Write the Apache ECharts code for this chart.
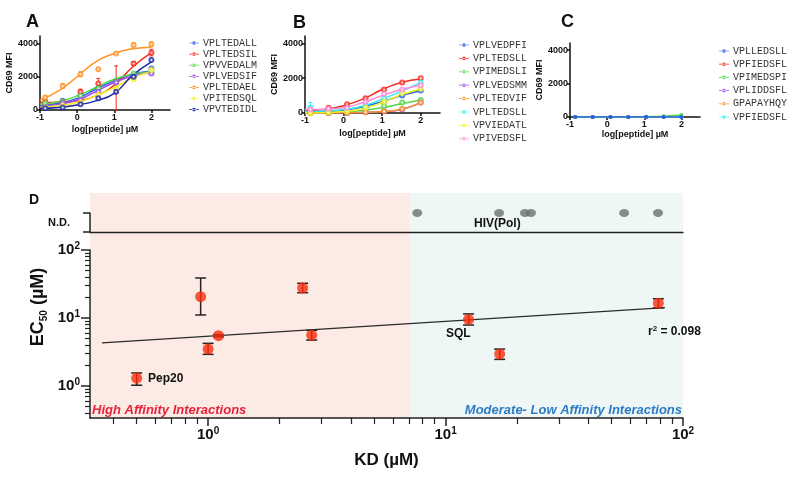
<!DOCTYPE html>
<html><head><meta charset="utf-8">
<script src="https://cdn.jsdelivr.net/npm/echarts@6/dist/echarts.min.js"></script>
<style>html,body{margin:0;padding:0;background:#fff}#c{width:795px;height:480px}</style>
</head><body><div id="c"></div>
<script>
// ---------- DATA ----------
const doseX = [-0.86, -0.39, 0.09, 0.57, 1.05, 1.52, 2.0];   // log[peptide] of measured points
const curveX = [-1, -0.5, 0, 0.5, 1, 1.5, 2];                 // positions where fitted curves were read
const doseTicks = [-1, 0, 1, 2];
const mfiTicks = [0, 2000, 4000];

// Panel A
const namesA = ['VPLTEDALL','VPLTEDSIL','VPVVEDALM','VPLVEDSIF','VPLTEDAEL','VPITEDSQL','VPVTEDIDL'];
const colorsA = ['#2a5ee8','#f52a1e','#52d84a','#a24cf0','#ff9426','#f4f01c','#1a26a6'];
const curvesA = [
  [250, 400, 700, 1250, 1750, 2150, 2350],
  [450, 460, 560, 850, 1500, 2600, 3450],
  [350, 500, 850, 1350, 1850, 2150, 2280],
  [200, 330, 600, 1100, 1650, 2050, 2250],
  [600, 1150, 2000, 2900, 3400, 3680, 3780],
  [150, 250, 450, 850, 1350, 1950, 2300],
  [100, 150, 300, 550, 1000, 2100, 2900]
];
const pointsA = [
  [250, 550, 900, 1300, 1700, 2100, 2500],
  [500, 500, 1100, 1600, 1700, 2800, 3450],
  [400, 500, 850, 1300, 1700, 2200, 2300],
  [200, 400, 600, 1100, 1650, 2000, 2200],
  [750, 1450, 2150, 2450, 3400, 3900, 3950],
  [150, 250, 450, 900, 1300, 1850, 2400],
  [100, 150, 350, 700, 1100, 2000, 3000]
];
const errA_VPLTEDSIL = [[400,600],[400,600],[900,1250],[1300,1900],[0,2650],[2700,2900],[3250,3650]];
const errA_VPLTEDAEL = [[650,850],[1300,1600],[2000,2300],[2400,2500],[3350,3450],[3800,4050],[3800,4100]];

// Panel B
const namesB = ['VPLVEDPFI','VPLTEDSLL','VPIMEDSLI','VPLVEDSMM','VPLTEDVIF','VPLTEDSLL ','VPVIEDATL','VPIVEDSFL'];
const colorsB = ['#2a5ee8','#f52a1e','#52d84a','#a24cf0','#ff9426','#2ef0f0','#f4f01c','#ff8ad8'];
const curvesB = [
  [50, 80, 150, 350, 650, 1000, 1280],
  [130, 200, 420, 800, 1350, 1750, 1950],
  [0, 20, 60, 150, 300, 530, 750],
  [0, 0, 10, 30, 80, 200, 600],
  [0, 0, 10, 30, 80, 220, 600],
  [80, 110, 200, 400, 800, 1250, 1750],
  [0, 20, 80, 250, 600, 1050, 1400],
  [200, 220, 300, 600, 1000, 1350, 1600]
];
const pointsB = [
  [100, 100, 200, 350, 650, 1000, 1300],
  [150, 300, 500, 850, 1350, 1750, 2000],
  [0, 0, 100, 200, 400, 600, 750],
  [0, 0, 0, 50, 100, 200, 600],
  [0, 0, 0, 50, 100, 250, 600],
  [300, 100, 200, 450, 850, 1200, 1750],
  [0, 50, 100, 300, 650, 1150, 1400],
  [200, 250, 300, 650, 1100, 1350, 1600]
];
const errB_cyan = [[100,600],[80,120],[150,250],[350,550],[700,1000],[1100,1300],[1650,1900]];

// Panel C
const namesC = ['VPLLEDSLL','VPFIEDSFL','VPIMEDSPI','VPLIDDSFL','GPAPAYHQY','VPFIEDSFL '];
const colorsC = ['#2a5ee8','#f52a1e','#52d84a','#a24cf0','#ff9426','#2ef0f0'];
const pointsC = [
  [0, 0, 0, 0, 0, 0, 0],
  [0, 0, 0, 0, 0, 0, 0],
  [0, 0, 0, 0, 10, 50, 120],
  [0, 0, 0, 0, 0, 0, 0],
  [0, 0, 0, 0, 0, 0, 0],
  [0, 0, 0, 0, 0, 0, 0]
];

// Panel D (µM)
const kd     = [0.50, 0.93, 1.00, 1.105, 2.50, 2.73, 12.5, 16.9, 78.7];
const ec50   = [1.31, 20.6, 3.50, 5.50, 27.6, 5.60, 9.56, 2.96, 16.5];
const ecLow  = [1.03, 11.1, 2.93, 5.30, 23.6, 4.75, 7.90, 2.47, 14.1];
const ecHigh = [1.56, 38.8, 4.25, 5.70, 32.4, 6.60, 11.5, 3.50, 19.2];
const ndKD   = [7.6, 16.8, 21.6, 22.9, 56.5, 78.5];        // HIV(Pol) peptides, EC50 not determined
const fitKD  = [0.357, 84];
const fitEC  = [4.33, 14.2];
const kdRange = [0.318, 100];
const ecRange = [0.34, 100];
const affinityBounds = [0.318, 7.08, 100];                  // high | moderate-low affinity split
const kdMajorTicks = [1, 10, 100];
const kdMinorTicks = [0.4,0.5,0.6,0.7,0.8,0.9,2,3,4,5,6,7,8,9,20,30,40,50,60,70,80,90];
const ecMajorTicks = [1, 10, 100];
const ecMinorTicks = [0.4,0.5,0.6,0.7,0.8,0.9,2,3,4,5,6,7,8,9,20,30,40,50,60,70,80,90];

// ---------- CHART ----------
const FONT = 'Liberation Sans, Arial, sans-serif';
const MONO = 'Liberation Mono, Courier New, monospace';
const L = Math.log10;
const ICON = 'path://M0,4.5h14v1h-14z M7,2.5a2.5,2.5 0 1,0 0.001,0z';
const chart = echarts.init(document.getElementById('c'));

const grid = [
  {left:40, top:36, width:130, height:74},
  {left:305, top:36, width:135, height:77},
  {left:570, top:43, width:130, height:74},
  {left:90, top:193, width:593, height:225},
  {left:90, top:213, width:593, height:19},
  {left:90, top:250, width:593, height:168}
];

const axTxt = {fontSize:9, fontWeight:'bold', color:'#111', fontFamily:FONT};
function doseX_(gi, gap) {
  return {type:'value', gridIndex:gi, min:-1, max:2.5,
    axisLine:{show:true, onZero:false, lineStyle:{color:'#111', width:1.5}},
    axisTick:{show:true, customValues:doseTicks, length:3, lineStyle:{color:'#111', width:1.5}},
    axisLabel:Object.assign({customValues:doseTicks, margin:3, formatter:v => String(v)}, axTxt),
    splitLine:{show:false},
    name:'log[peptide] \u00b5M', nameLocation:'middle', nameGap:gap, nameTextStyle:axTxt};
}
function mfiY_(gi, max, gap) {
  return {type:'value', gridIndex:gi, min:0, max:max,
    axisLine:{show:true, onZero:false, lineStyle:{color:'#111', width:1.5}},
    axisTick:{show:true, customValues:mfiTicks, length:3, lineStyle:{color:'#111', width:1.5}},
    axisLabel:Object.assign({customValues:mfiTicks, margin:2, formatter:v => String(v)}, axTxt),
    splitLine:{show:false},
    name:'CD69 MFI', nameLocation:'middle', nameGap:gap, nameTextStyle:axTxt};
}
const supRich = {
  b:{fontSize:15, fontWeight:'bold', fontFamily:FONT, color:'#111', lineHeight:18},
  p:{fontSize:10, fontWeight:'bold', fontFamily:FONT, color:'#111', verticalAlign:'top', lineHeight:10}
};
const supFmt = v => '{b|10}{p|' + Math.round(v) + '}';

const xAxis = [
  doseX_(0, 15), doseX_(1, 16), doseX_(2, 12),
  {type:'value', gridIndex:3, min:L(kdRange[0]), max:L(kdRange[1]), show:false},
  {type:'value', gridIndex:4, min:L(kdRange[0]), max:L(kdRange[1]), z:5, position:'bottom',
    axisLine:{show:true, onZero:false, lineStyle:{color:'#222', width:1.3}},
    axisTick:{show:false}, axisLabel:{show:false}, splitLine:{show:false}},
  {type:'value', gridIndex:5, min:L(kdRange[0]), max:L(kdRange[1]), z:5, position:'bottom',
    axisLine:{show:true, onZero:false, lineStyle:{color:'#222', width:1.5}},
    axisTick:{show:true, customValues:kdMajorTicks.map(L), length:8, lineStyle:{color:'#222', width:1.5}},
    axisLabel:{customValues:kdMajorTicks.map(L), formatter:supFmt, rich:supRich, margin:8},
    splitLine:{show:false},
    name:'KD (\u00b5M)', nameLocation:'middle', nameGap:34,
    nameTextStyle:{fontSize:17, fontWeight:'bold', color:'#111', fontFamily:FONT}},
  {type:'value', gridIndex:5, min:L(kdRange[0]), max:L(kdRange[1]), z:5, position:'bottom', offset:0,
    axisLine:{show:false, onZero:false}, axisLabel:{show:false}, splitLine:{show:false},
    axisTick:{show:true, customValues:kdMinorTicks.map(L), length:6, lineStyle:{color:'#222', width:1.2}}}
];
const yAxis = [
  mfiY_(0, 4450, 20), mfiY_(1, 4430, 15), mfiY_(2, 4420, 19),
  {type:'value', gridIndex:3, min:0, max:1, show:false},
  {type:'category', gridIndex:4, data:['N.D.'], boundaryGap:true, z:5, position:'left',
    axisLine:{show:true, onZero:false, lineStyle:{color:'#222', width:1.5}},
    axisTick:{show:true, length:7, lineStyle:{color:'#222', width:1.5}},
    axisLabel:{fontSize:11, fontWeight:'bold', color:'#111', fontFamily:FONT, margin:20}},
  {type:'value', gridIndex:4, min:0, max:1, show:false, position:'left', axisLine:{onZero:false}},
  {type:'value', gridIndex:5, min:L(ecRange[0]), max:L(ecRange[1]), z:5, position:'left',
    axisLine:{show:true, onZero:false, lineStyle:{color:'#222', width:1.5}},
    axisTick:{show:true, customValues:ecMajorTicks.map(L), length:9, lineStyle:{color:'#222', width:1.5}},
    axisLabel:{customValues:ecMajorTicks.map(L), formatter:supFmt, rich:supRich, margin:10},
    splitLine:{show:false}},
  {type:'value', gridIndex:5, min:L(ecRange[0]), max:L(ecRange[1]), z:5, position:'left', offset:0,
    axisLine:{show:false, onZero:false}, axisLabel:{show:false}, splitLine:{show:false},
    axisTick:{show:true, customValues:ecMinorTicks.map(L), length:5, lineStyle:{color:'#222', width:1.2}}}
];

function errBars(xi, yi, data, color, cap, lw, z) {
  return {type:'custom', xAxisIndex:xi, yAxisIndex:yi, data:data, silent:true, z:z||2,
    encode:{x:0, y:[1,2]},
    renderItem:function(params, api){
      const x = api.value(0), lo = api.value(1), hi = api.value(2);
      const a = api.coord([x, lo]), b = api.coord([x, hi]), h = cap/2;
      const st = {stroke:color, lineWidth:lw};
      return {type:'group', children:[
        {type:'line', shape:{x1:a[0], y1:a[1], x2:b[0], y2:b[1]}, style:st},
        {type:'line', shape:{x1:a[0]-h, y1:a[1], x2:a[0]+h, y2:a[1]}, style:st},
        {type:'line', shape:{x1:b[0]-h, y1:b[1], x2:b[0]+h, y2:b[1]}, style:st}
      ]};
    }};
}

const series = [];
function dosePanel(gi, names, colors, curves, points) {
  names.forEach((n, i) => {
    series.push({type:'line', name:n, xAxisIndex:gi, yAxisIndex:gi, smooth:0.5,
      data:curveX.map((x, k) => [x, curves[i][k]]), symbol:'circle', showSymbol:false,
      lineStyle:{color:colors[i], width:1.5}, itemStyle:{color:colors[i]}, z:3});
    series.push({type:'scatter', name:n, xAxisIndex:gi, yAxisIndex:gi,
      data:doseX.map((x, k) => [x, points[i][k]]), symbol:'emptyCircle', symbolSize:4,
      itemStyle:{color:colors[i], borderColor:colors[i], borderWidth:1}, z:3});
  });
}
dosePanel(0, namesA, colorsA, curvesA, pointsA);
series.push(errBars(0, 0, doseX.map((x,k)=>[x, errA_VPLTEDSIL[k][0], errA_VPLTEDSIL[k][1]]), colorsA[1], 4, 1, 2));
series.push(errBars(0, 0, doseX.map((x,k)=>[x, errA_VPLTEDAEL[k][0], errA_VPLTEDAEL[k][1]]), colorsA[4], 4, 1, 2));
dosePanel(1, namesB, colorsB, curvesB, pointsB);
series.push(errBars(1, 1, doseX.map((x,k)=>[x, errB_cyan[k][0], errB_cyan[k][1]]), colorsB[5], 4, 1, 2));
namesC.forEach((n, i) => {
  series.push({type:'line', name:n, xAxisIndex:2, yAxisIndex:2,
    data:doseX.map((x, k) => [x, pointsC[i][k]]), symbol:'circle', symbolSize:4, showSymbol:true,
    lineStyle:{color:colorsC[i], width:1.5}, itemStyle:{color:colorsC[i]}, z: i === 0 ? 6 : (i === 2 ? 5 : 3)});
});

// Panel D
const bgColors = ['#fcebe4', '#eef7f5'];
series.push({type:'custom', xAxisIndex:3, yAxisIndex:3, silent:true, z:0,
  data:[[L(affinityBounds[0]), L(affinityBounds[1]), 0], [L(affinityBounds[1]), L(affinityBounds[2]), 1]],
  encode:{x:[0,1]},
  renderItem:function(params, api){
    const a = api.coord([api.value(0), 1]), b = api.coord([api.value(1), 0]);
    return {type:'rect', shape:{x:a[0], y:a[1], width:b[0]-a[0], height:b[1]-a[1]},
      style:{fill:bgColors[api.value(2)]}};
  }});
series.push({type:'scatter', xAxisIndex:4, yAxisIndex:5, data:ndKD.map(v => [L(v), 1]),
  symbol:'circle', symbolSize:[10, 8], itemStyle:{color:'#6a6f70'}, z:4});
series.push({type:'line', xAxisIndex:5, yAxisIndex:6, data:fitKD.map((v, i) => [L(v), L(fitEC[i])]),
  symbol:'none', lineStyle:{color:'#2b2b2b', width:1.3}, z:3});
series.push(errBars(5, 6, kd.map((v, i) => [L(v), L(ecLow[i]), L(ecHigh[i])]), '#222', 11, 1.5, 4));
series.push({type:'scatter', xAxisIndex:5, yAxisIndex:6, data:kd.map((v, i) => [L(v), L(ec50[i])]),
  symbol:'circle', symbolSize:11, itemStyle:{color:'#fb2d0c'}, z:5});

function legend(left, top, gap, names) {
  return {left:left, top:top, orient:'vertical', itemWidth:10, itemHeight:6, itemGap:gap, padding:0,
    icon:ICON, selectedMode:false, data:names,
    textStyle:{fontFamily:MONO, fontSize:10, color:'#333', lineHeight:8, padding:[0,0,0,-1]}};
}

const T = (text, x, y, size) => ({type:'text', x:x, y:y, z:100,
  style:{text:text, fontSize:size, fontWeight:'bold', fontFamily:FONT, fill:'#111', align:'left', verticalAlign:'middle'}});

const graphic = [
  T('A', 26, 22, 18), T('B', 293, 23, 18), T('C', 561, 22, 18), T('D', 29, 200, 14),
  T('Pep20', 148, 379, 12), T('SQL', 446, 334, 12), T('HIV(Pol)', 474, 224, 12),
  {type:'text', x:648, y:332, z:100, style:{text:'{a|r}{p|2}{a| = 0.098}', align:'left', verticalAlign:'middle',
    rich:{a:{fontSize:12, fontWeight:'bold', fontFamily:FONT, fill:'#111', lineHeight:14},
          p:{fontSize:8, fontWeight:'bold', fontFamily:FONT, fill:'#111', verticalAlign:'top', lineHeight:8}}}},
  {type:'text', x:38, y:307, z:100, rotation:Math.PI/2, style:{text:'{a|EC}{s|50}{a| (\u00b5M)}', align:'center', verticalAlign:'middle',
    rich:{a:{fontSize:18, fontWeight:'bold', fontFamily:FONT, fill:'#111', lineHeight:22},
          s:{fontSize:10, fontWeight:'bold', fontFamily:FONT, fill:'#111', verticalAlign:'bottom', lineHeight:10}}}},
  {type:'text', x:92, y:410, z:100, style:{text:'High Affinity Interactions', fontSize:13, fontWeight:'bold',
    fontStyle:'italic', fontFamily:FONT, fill:'#e8213b', align:'left', verticalAlign:'middle'}},
  {type:'text', x:682, y:410, z:100, style:{text:'Moderate- Low Affinity Interactions', fontSize:13, fontWeight:'bold',
    fontStyle:'italic', fontFamily:FONT, fill:'#2b7cc4', align:'right', verticalAlign:'middle'}}
];

chart.setOption({
  animation:false, backgroundColor:'#fff',
  grid:grid, xAxis:xAxis, yAxis:yAxis, series:series,
  legend:[legend(189, 38, 1.1, namesA), legend(459, 40, 3.4, namesB), legend(719, 46, 3.2, namesC)],
  graphic:graphic
});
</script>
</body></html>
